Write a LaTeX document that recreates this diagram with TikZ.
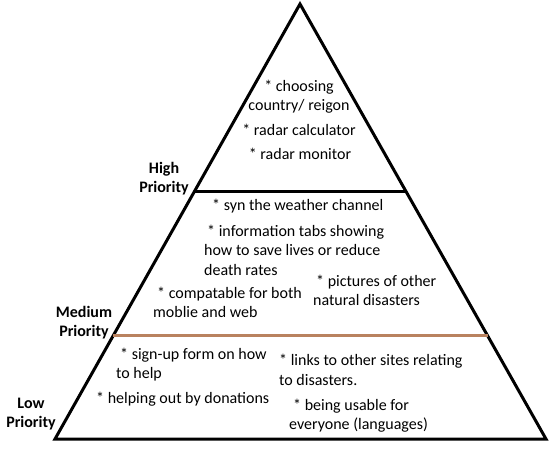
\documentclass[tikz,border=0pt]{standalone}
\usepackage{fontspec}
\setmainfont{Carlito}
\usetikzlibrary{calc}
\definecolor{tierbrown}{RGB}{185,130,95}
\tikzset{
  item/.style={font=\fontsize{16}{19.5}\selectfont, inner sep=0pt, align=left, anchor=west},
  citem/.style={font=\fontsize{16}{19.5}\selectfont, inner sep=0pt, align=center},
  tier/.style={font=\fontsize{16}{19.5}\selectfont\bfseries, inner sep=0pt, align=center},
  outline/.style={line width=3pt, black},
}
\begin{document}
\begin{tikzpicture}[x=1pt,y=-1pt]
\useasboundingbox (0,0) rectangle (554,452);
\coordinate (apex) at (300,4);
\coordinate (bl) at (55,439);
\coordinate (br) at (546,439);
\draw[outline] (apex) -- (bl) -- (br) -- cycle;
\coordinate (hl) at ($(apex)!0.43!(bl)$);
\coordinate (hr) at ($(apex)!0.43!(br)$);
\coordinate (ml) at ($(apex)!0.763!(bl)$);
\coordinate (mr) at ($(apex)!0.763!(br)$);
\draw[line width=3pt] (hl) -- (hr);
\draw[line width=3pt, tierbrown] (ml) -- (mr);

% top tier
\node[citem] (t1) at (299,96.5) {* choosing\\country/ reigon};
\node[citem] (t2) at (299,130) {* radar calculator};
\node[citem] (t3) at (300,154) {* radar monitor};

% tier labels
\node[tier] (high) at (164,178.5) {High\\Priority};
\node[tier] (med) at (84,322.5) {Medium\\Priority};
\node[tier] (low) at (31,414) {Low\\Priority};

% medium tier
\node[item] (m1) at (212,206) {* syn the weather channel};
\node[item] (m2) at (204,250) {\hspace{3pt}* information tabs showing\\how to save lives or reduce\\death rates};
\node[item] (m3) at (153,302.5) {\hspace{4pt}* compatable for both\\moblie and web};
\node[item] (m4) at (313,290.5) {\hspace{3pt}* pictures of other\\natural disasters};

% low tier
\node[item] (l1) at (116,364.5) {\hspace{4pt}* sign-up form on how\\to help};
\node[item] (l2) at (96,399) {* helping out by donations};
\node[item] (l3) at (279,370) {* links to other sites relating\\to disasters.};
\node[item] (l4) at (289,415.5) {\hspace{4pt}* being usable for\\everyone (languages)};
\end{tikzpicture}
\end{document}
